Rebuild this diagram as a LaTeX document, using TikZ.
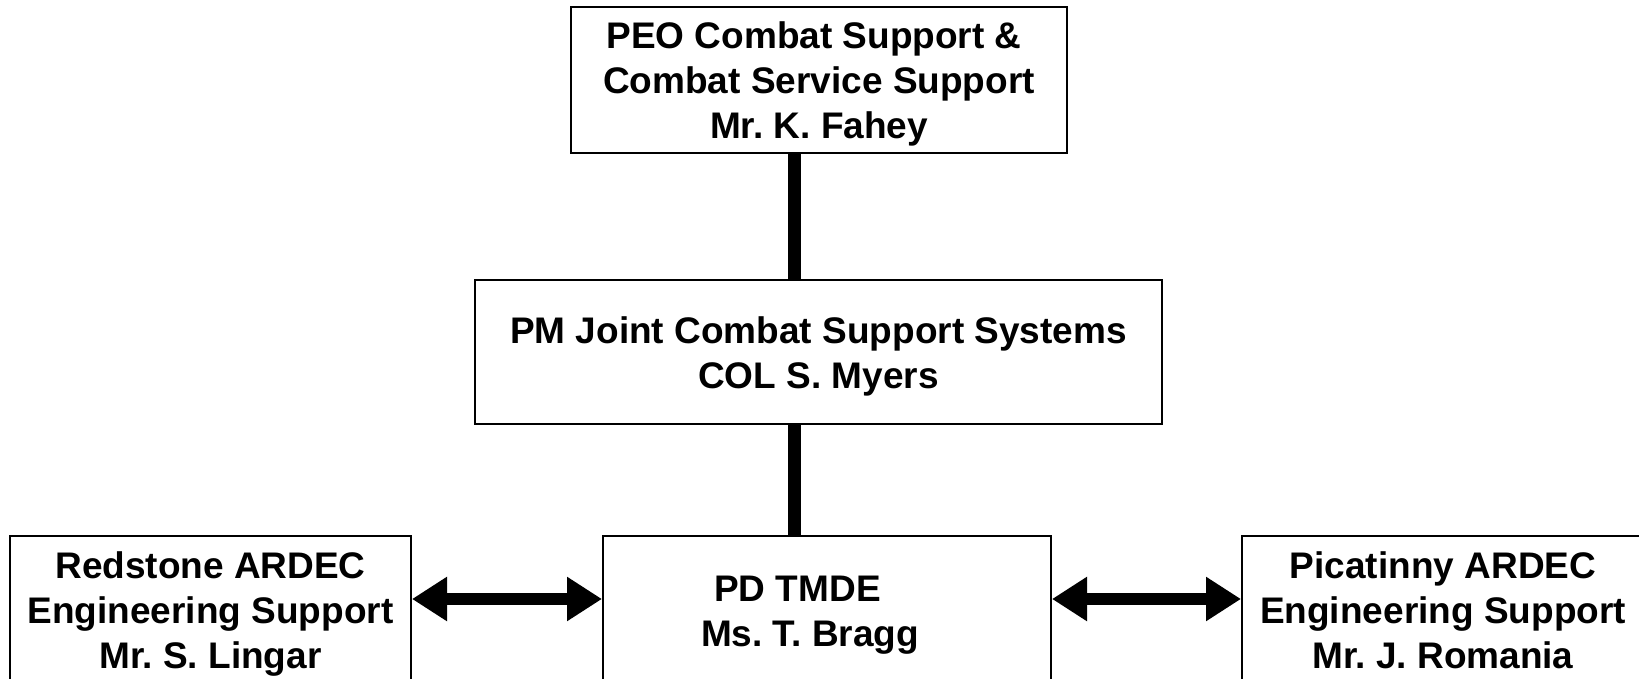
\documentclass[tikz,border=0pt]{standalone}
\usepackage{fontspec}
\setmainfont{Liberation Sans}
\usetikzlibrary{arrows.meta}
\usetikzlibrary{positioning}
\frenchspacing
\newcommand{\toplift}{\rule{0pt}{35pt}}
\tikzset{orgbox/.style = {draw, line width=2pt, inner sep=0pt, align=center,
                          font=\bfseries\fontsize{37}{45}\selectfont},
         link/.style = {line width=12.5pt},
         xchg/.style = {line width=12pt,
                        {Triangle[length=35pt,width=42pt]}-{Triangle[length=35pt,width=42pt]}}}

\begin{document}
\begin{tikzpicture}[x=1pt, y=1pt]
    \useasboundingbox (0, 0) rectangle (1639, 678);
    \clip (0, 0) rectangle (1639, 678);

    \node [orgbox, minimum width=496pt, minimum height=146pt] (peo) at (819, 598)
          {\toplift PEO Combat Support \&\hspace*{10pt}\\ Combat Service Support\\ Mr. K. Fahey};
    \node [orgbox, minimum width=687pt, minimum height=144pt] (pm) at (818.5, 326)
          {\toplift PM Joint Combat Support Systems\\ COL S. Myers};
    \node [orgbox, minimum width=448pt, minimum height=148pt] (pd) at (827, 68)
          {\toplift PD TMDE\hspace*{59pt}\\ Ms. T. Bragg\hspace*{34pt}};
    \node [orgbox, minimum width=401pt, minimum height=148pt] (redstone) at (210.5, 68)
          {\toplift Redstone ARDEC\\ Engineering Support\\ Mr. S. Lingar};
    \node [orgbox, minimum width=402pt, minimum height=148pt] (picatinny) at (1443, 68)
          {\toplift Picatinny ARDEC\\ Engineering Support\\ Mr. J. Romania\vphantom{g}};

    \coordinate (spine) at (794.5, 0);
    \draw [link] (peo.south -| spine) -- (pm.north -| spine);
    \draw [link] (pm.south -| spine) -- (pd.north -| spine);

    \draw [xchg] ([yshift=11pt]redstone.east) -- ([yshift=11pt]pd.west);
    \draw [xchg] ([yshift=11pt]pd.east) -- ([yshift=11pt]picatinny.west);
\end{tikzpicture}
\end{document}
